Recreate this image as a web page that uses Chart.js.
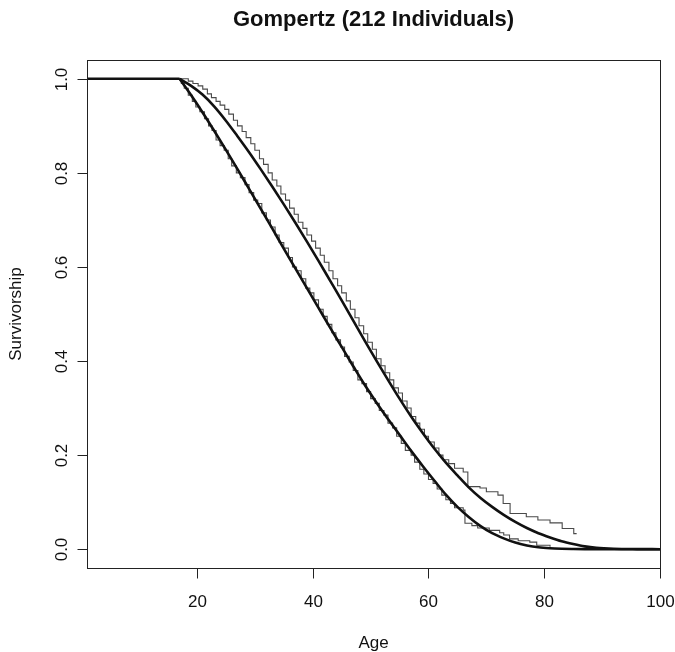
<!DOCTYPE html>
<html><head><meta charset="utf-8">
<script src="https://cdn.jsdelivr.net/npm/chart.js@4.4.1/dist/chart.umd.min.js"></script>
<style>html,body{margin:0;padding:0;background:#fff}#wrap{width:675px;height:652px}</style>
</head><body><div id="wrap"><canvas id="c" width="675" height="652"></canvas></div>
<script>
const titleText = "Gompertz (212 Individuals)";
const xTitle = "Age";
const yTitle = "Survivorship";
const ageTicks = [20, 40, 60, 80, 100];
const ageTickLabels = ["20", "40", "60", "80", "100"];
const survTicks = [0, 0.2, 0.4, 0.6, 0.8, 1.0];
const survTickLabels = ["0.0", "0.2", "0.4", "0.6", "0.8", "1.0"];

const plateauAge = [1, 17];
const plateauS = [1, 1];

const upperFitAge = [17,19,21,23,25,27,29,31,33,35,37,39,41,43,45,47,49,51,53,55,57,59,61,63,65,67,69,71,73,75,77,79,81,83,85,87,89,92,96,100];
const upperFitS = [1,0.985,0.966,0.941,0.911,0.878,0.844,0.808,0.771,0.733,0.694,0.654,0.613,0.571,0.529,0.486,0.443,0.401,0.36,0.32,0.282,0.247,0.214,0.184,0.157,0.131,0.109,0.09,0.073,0.058,0.045,0.034,0.025,0.017,0.011,0.006,0.003,0.001,0.0002,0];

const lowerFitAge = [17,19,21,23,25,27,29,31,33,35,37,39,41,43,45,47,49,51,53,55,57,59,61,63,65,67,69,71,73,75,77,79,81,83,85,87,89,92,96,100];
const lowerFitS = [1,0.965,0.928,0.889,0.849,0.808,0.766,0.724,0.682,0.639,0.597,0.555,0.513,0.471,0.43,0.389,0.349,0.312,0.277,0.243,0.209,0.177,0.146,0.116,0.09,0.068,0.049,0.034,0.023,0.014,0.008,0.004,0.002,0.001,0.0005,0.0002,0.0001,0,0,0];

const upperKmAge = [1,17,18.5,19.3,20.2,21,21.8,22.5,23.3,24,24.8,25.5,26.3,27,27.8,28.5,29.3,30,30.8,31.5,32.3,33,33.8,34.5,35.3,36,36.8,37.5,38.3,39,39.8,40.5,41.3,42,42.8,43.5,44.3,45,45.8,46.5,47.3,48,48.8,49.5,50.3,51,51.8,52.5,53.3,54,54.8,55.5,56.3,57,57.8,58.5,59.3,60,61,61.8,62.5,63.5,64.5,66,66.8,68.9,70,72,72.9,74.1,76.9,78.9,81,83.1,85.1,85.6];
const upperKmS = [1,1,0.995,0.99,0.985,0.978,0.968,0.96,0.952,0.944,0.935,0.925,0.912,0.9,0.888,0.875,0.862,0.848,0.83,0.818,0.8,0.785,0.772,0.755,0.742,0.725,0.712,0.695,0.682,0.668,0.655,0.64,0.625,0.61,0.592,0.575,0.56,0.545,0.528,0.51,0.492,0.475,0.458,0.44,0.425,0.405,0.39,0.375,0.36,0.343,0.332,0.315,0.3,0.282,0.268,0.255,0.24,0.228,0.215,0.2,0.19,0.182,0.172,0.164,0.133,0.13,0.122,0.115,0.097,0.076,0.069,0.062,0.056,0.044,0.033,0.033];

const lowerKmAge = [1,17,17.3,17.8,18.5,19.2,19.8,20.5,21.3,22,22.6,23.3,24,24.7,25.4,26,26.8,27.5,28.3,29,29.8,30.5,31.2,32,32.7,33.5,34.2,35,35.8,36.5,37.2,38,38.8,39.5,40.2,41,41.8,42.5,43.3,44,44.8,45.5,46.3,47,47.8,48.5,49.3,50,50.8,51.5,52.3,53,53.8,54.5,55.3,56,57,57.6,58.5,59.2,60,60.8,61.5,62.3,63,63.8,64.5,66,66.3,67.5,68.5,70.5,72.3,73,74,75.5,77.5,78.7,81];
const lowerKmS = [1,1,0.99,0.98,0.965,0.952,0.94,0.93,0.915,0.9,0.89,0.87,0.858,0.848,0.83,0.815,0.8,0.79,0.775,0.758,0.742,0.735,0.715,0.7,0.685,0.668,0.652,0.64,0.62,0.6,0.592,0.575,0.555,0.545,0.53,0.51,0.495,0.478,0.46,0.445,0.43,0.41,0.398,0.38,0.36,0.352,0.335,0.32,0.31,0.295,0.285,0.268,0.258,0.24,0.225,0.21,0.2,0.185,0.17,0.16,0.148,0.14,0.128,0.115,0.105,0.097,0.088,0.083,0.055,0.05,0.045,0.04,0.035,0.03,0.022,0.018,0.015,0.0085,0.005];

function pts(a, s) { return a.map((x, i) => ({ x: x, y: s[i] })); }

const FONT = "'Liberation Sans', Arial, Helvetica, sans-serif";

const rAxes = {
  id: 'rAxes',
  afterDraw(chart) {
    const ctx = chart.ctx, a = chart.chartArea, xs = chart.scales.x, ys = chart.scales.y;
    ctx.save();
    ctx.strokeStyle = '#222';
    ctx.lineWidth = 1;
    const L = Math.round(a.left) + 0.5, T = Math.round(a.top) + 0.5;
    const R = Math.round(a.right) + 0.5, B = Math.round(a.bottom) + 0.5;
    ctx.strokeRect(L, T, R - L, B - T);
    ctx.fillStyle = '#111';
    ctx.font = '17px ' + FONT;
    ctx.textAlign = 'center';
    ctx.textBaseline = 'middle';
    ageTicks.forEach((v, i) => {
      const px = Math.round(xs.getPixelForValue(v)) + 0.5;
      ctx.beginPath(); ctx.moveTo(px, B); ctx.lineTo(px, B + 10); ctx.stroke();
      ctx.fillText(ageTickLabels[i], px, 602);
    });
    survTicks.forEach((v, i) => {
      const py = Math.round(ys.getPixelForValue(v)) + 0.5;
      ctx.beginPath(); ctx.moveTo(L - 10, py); ctx.lineTo(L, py); ctx.stroke();
      ctx.save(); ctx.translate(62, py); ctx.rotate(-Math.PI / 2);
      ctx.fillText(survTickLabels[i], 0, 0); ctx.restore();
    });
    ctx.fillText(xTitle, (a.left + a.right) / 2, 643);
    ctx.save(); ctx.translate(16, (a.top + a.bottom) / 2); ctx.rotate(-Math.PI / 2);
    ctx.fillText(yTitle, 0, 0); ctx.restore();
    ctx.font = 'bold 22px ' + FONT;
    ctx.fillText(titleText, (a.left + a.right) / 2, 20);
    ctx.restore();
  }
};

new Chart(document.getElementById('c'), {
  type: 'line',
  data: {
    datasets: [
      { data: pts(upperFitAge, upperFitS), borderColor: '#111', borderWidth: 2.6, cubicInterpolationMode: 'monotone', order: 0 },
      { data: pts(lowerFitAge, lowerFitS), borderColor: '#111', borderWidth: 2.6, cubicInterpolationMode: 'monotone', order: 0 },
      { data: pts(plateauAge, plateauS), borderColor: '#111', borderWidth: 2.6, order: 0 },
      { data: pts(upperKmAge, upperKmS), borderColor: '#4a4a4a', borderWidth: 1.1, stepped: true, order: 1 },
      { data: pts(lowerKmAge, lowerKmS), borderColor: '#4a4a4a', borderWidth: 1.1, stepped: true, order: 1 }
    ]
  },
  options: {
    responsive: false,
    animation: false,
    devicePixelRatio: 1,
    layout: { padding: { left: 87, right: 15, top: 60, bottom: 84 } },
    elements: { point: { radius: 0 }, line: { tension: 0, fill: false } },
    scales: {
      x: { type: 'linear', min: 1, max: 100, display: false },
      y: { type: 'linear', min: -0.04, max: 1.04, display: false }
    },
    plugins: { legend: { display: false }, tooltip: { enabled: false }, title: { display: false } }
  },
  plugins: [rAxes]
});
</script>
</body></html>
